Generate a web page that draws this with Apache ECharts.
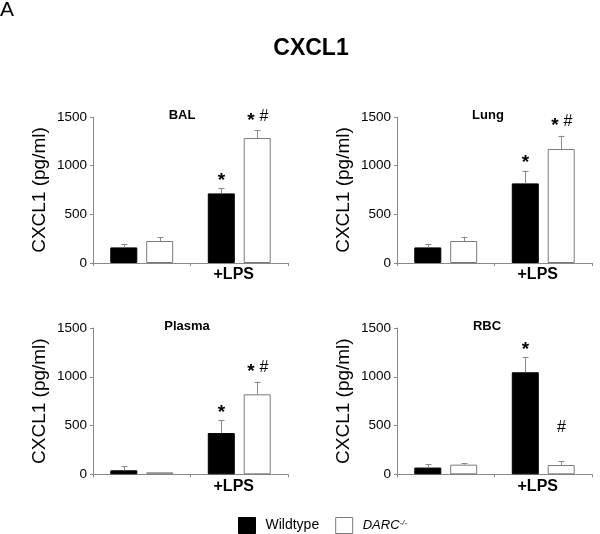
<!DOCTYPE html>
<html><head><meta charset="utf-8">
<script src="https://cdn.jsdelivr.net/npm/echarts@6/dist/echarts.min.js"></script>
<style>html,body{margin:0;padding:0;background:#fff}#c{width:600px;height:534px}</style>
</head><body><div id="c"></div>
<script>
// ---- data ----
const categories = ['', '+LPS'];
const yTicks = [0, 500, 1000, 1500];
const panelTitles = ['BAL', 'Lung', 'Plasma', 'RBC'];
const seriesNames = ['Wildtype', 'DARC-/-'];

const balWT = [160, 715];     const balWTErr = [35, 55];
const balKO = [226, 1284];    const balKOErr = [41, 78];
const lungWT = [160, 818];    const lungWTErr = [35, 130];
const lungKO = [226, 1171];   const lungKOErr = [44, 137];
const plasmaWT = [41, 423];   const plasmaWTErr = [44, 130];
const plasmaKO = [20, 820];   const plasmaKOErr = [0, 130];
const rbcWT = [69, 1046];     const rbcWTErr = [34, 154];
const rbcKO = [99, 95];       const rbcKOErr = [13, 38];

const balWTMarks = ['', '*'];    const balKOMarks = ['', '* #'];
const lungWTMarks = ['', '*'];   const lungKOMarks = ['', '* #'];
const plasmaWTMarks = ['', '*']; const plasmaKOMarks = ['', '* #'];
const rbcWTMarks = ['', '*'];    const rbcKOMarks = ['', '#'];
const rbcKOMarkAt = [null, 475];

const panels = [
  {wt: balWT, wtE: balWTErr, ko: balKO, koE: balKOErr, wtM: balWTMarks, koM: balKOMarks, koAt: null},
  {wt: lungWT, wtE: lungWTErr, ko: lungKO, koE: lungKOErr, wtM: lungWTMarks, koM: lungKOMarks, koAt: null},
  {wt: plasmaWT, wtE: plasmaWTErr, ko: plasmaKO, koE: plasmaKOErr, wtM: plasmaWTMarks, koM: plasmaKOMarks, koAt: null},
  {wt: rbcWT, wtE: rbcWTErr, ko: rbcKO, koE: rbcKOErr, wtM: rbcWTMarks, koM: rbcKOMarks, koAt: rbcKOMarkAt}
];

// ---- layout / style ----
const FONT = '"Liberation Sans", Arial, sans-serif';
const AXIS_GRAY = '#8a8a8a';
const BAR_W = 27;
const OFFSET = 18;
const grids = [
  {left: 93, top: 117, width: 195, height: 146},
  {left: 397, top: 117, width: 195, height: 146},
  {left: 93, top: 328, width: 195, height: 146.3},
  {left: 397, top: 328, width: 195, height: 146.3}
];
const titlePos = [[182, 115], [488, 115], [187, 326], [487, 326]];

function starText(x, yc) {
  return {type: 'text', x: x, y: yc + 4, style: {text: '*', font: 'bold 19px ' + FONT, fill: '#000', align: 'center', verticalAlign: 'middle'}};
}
function hashText(x, yc) {
  return {type: 'text', x: x, y: yc, style: {text: '#', font: '16px ' + FONT, fill: '#000', align: 'center', verticalAlign: 'middle'}};
}

function errRenderer(offset, marks, markAt) {
  return function (params, api) {
    const i = api.value(0), v = api.value(1), e = api.value(2);
    const p0 = api.coord([i, v]);
    const p1 = api.coord([i, v + e]);
    const x = Math.round(p0[0] + offset) + 0.5;
    const children = [];
    const ls = {stroke: AXIS_GRAY, lineWidth: 1};
    if (e > 0) {
      children.push({type: 'line', shape: {x1: x, y1: p0[1], x2: x, y2: p1[1]}, style: ls});
      children.push({type: 'line', shape: {x1: x - 3, y1: Math.round(p1[1]) + 0.5, x2: x + 3, y2: Math.round(p1[1]) + 0.5}, style: ls});
    }
    const mk = marks[i];
    if (mk) {
      let yc;
      if (markAt && markAt[i] != null) yc = api.coord([i, markAt[i]])[1];
      else yc = p1[1] - (mk === '*' ? 11.5 : 14);
      if (mk === '*') children.push(starText(x, yc));
      else if (mk === '#') children.push(hashText(x, yc));
      else { children.push(starText(x - 6.5, yc)); children.push(hashText(x + 6.5, yc)); }
    }
    return {type: 'group', children: children};
  };
}

const xAxis = [], yAxis = [], series = [];
grids.forEach((g, k) => {
  xAxis.push({
    type: 'category', gridIndex: k, data: categories,
    axisLine: {lineStyle: {color: AXIS_GRAY, width: 1}},
    axisTick: {show: true, length: 3, lineStyle: {color: AXIS_GRAY}},
    axisLabel: {color: '#000', fontSize: 16, fontWeight: 'bold', fontFamily: FONT, margin: 4, padding: [0, 11, 0, 0]}
  });
  yAxis.push({
    type: 'value', gridIndex: k, min: yTicks[0], max: yTicks[yTicks.length - 1], interval: yTicks[1] - yTicks[0],
    name: 'CXCL1 (pg/ml)', nameLocation: 'middle', nameRotate: 90, nameGap: 44,
    nameTextStyle: {color: '#000', fontSize: 19, fontFamily: FONT},
    axisLine: {show: true, lineStyle: {color: AXIS_GRAY, width: 1}},
    axisTick: {show: true, length: 3, lineStyle: {color: AXIS_GRAY}},
    axisLabel: {color: '#000', fontSize: 13.5, fontFamily: FONT, margin: 6, formatter: v => String(v)},
    splitLine: {show: false}
  });
  const p = panels[k];
  series.push({
    type: 'bar', name: seriesNames[0], xAxisIndex: k, yAxisIndex: k, data: p.wt,
    barWidth: BAR_W, barGap: '33%',
    itemStyle: {color: '#000', borderColor: '#000', borderWidth: 1}
  });
  series.push({
    type: 'bar', name: seriesNames[1], xAxisIndex: k, yAxisIndex: k, data: p.ko,
    barWidth: BAR_W, barGap: '33%',
    itemStyle: {color: '#fff', borderColor: '#7a7a7a', borderWidth: 1}
  });
  series.push({
    type: 'custom', name: 'errWT' + k, xAxisIndex: k, yAxisIndex: k, z: 5,
    data: p.wt.map((v, i) => [i, v, p.wtE[i]]), encode: {x: 0, y: 1},
    renderItem: errRenderer(-OFFSET, p.wtM, null)
  });
  series.push({
    type: 'custom', name: 'errKO' + k, xAxisIndex: k, yAxisIndex: k, z: 5,
    data: p.ko.map((v, i) => [i, v, p.koE[i]]), encode: {x: 0, y: 1},
    renderItem: errRenderer(OFFSET, p.koM, p.koAt)
  });
});

const graphic = [
  {type: 'text', x: 0, y: 0, style: {text: 'A', font: '21px ' + FONT, fill: '#000', align: 'left', verticalAlign: 'top'}},
  {type: 'text', x: 311, y: 49, style: {text: 'CXCL1', font: 'bold 23px ' + FONT, fill: '#000', align: 'center', verticalAlign: 'middle'}}
];
panelTitles.forEach((t, k) => {
  graphic.push({type: 'text', x: titlePos[k][0], y: titlePos[k][1], style: {text: t, font: 'bold 13px ' + FONT, fill: '#000', align: 'center', verticalAlign: 'middle'}});
});

const chart = echarts.init(document.getElementById('c'), null, {renderer: 'canvas'});
chart.setOption({
  animation: false,
  backgroundColor: '#fff',
  grid: grids,
  xAxis: xAxis,
  yAxis: yAxis,
  series: series,
  graphic: graphic,
  legend: {
    left: 238, top: 517, padding: 0, itemWidth: 17, itemHeight: 16, itemGap: 16, icon: 'rect',
    data: [
      {name: seriesNames[0], itemStyle: {color: '#000', borderColor: '#000', borderWidth: 1}},
      {name: seriesNames[1], itemStyle: {color: '#fff', borderColor: '#7a7a7a', borderWidth: 1}}
    ],
    formatter: function (name) {
      return name === seriesNames[0] ? '{n|Wildtype}' : '{i|DARC}{s|-/-}';
    },
    textStyle: {
      color: '#000', fontFamily: FONT,
      rich: {
        n: {fontSize: 14, fontFamily: FONT, color: '#000', padding: [0, 0, 0, 5]},
        i: {fontSize: 13, fontStyle: 'italic', fontFamily: FONT, color: '#000', padding: [0, 0, 0, 5]},
        s: {fontSize: 8, fontStyle: 'italic', fontFamily: FONT, color: '#000', verticalAlign: 'top', padding: [0, 0, 6, 0]}
      }
    }
  }
});
</script>
</body></html>
